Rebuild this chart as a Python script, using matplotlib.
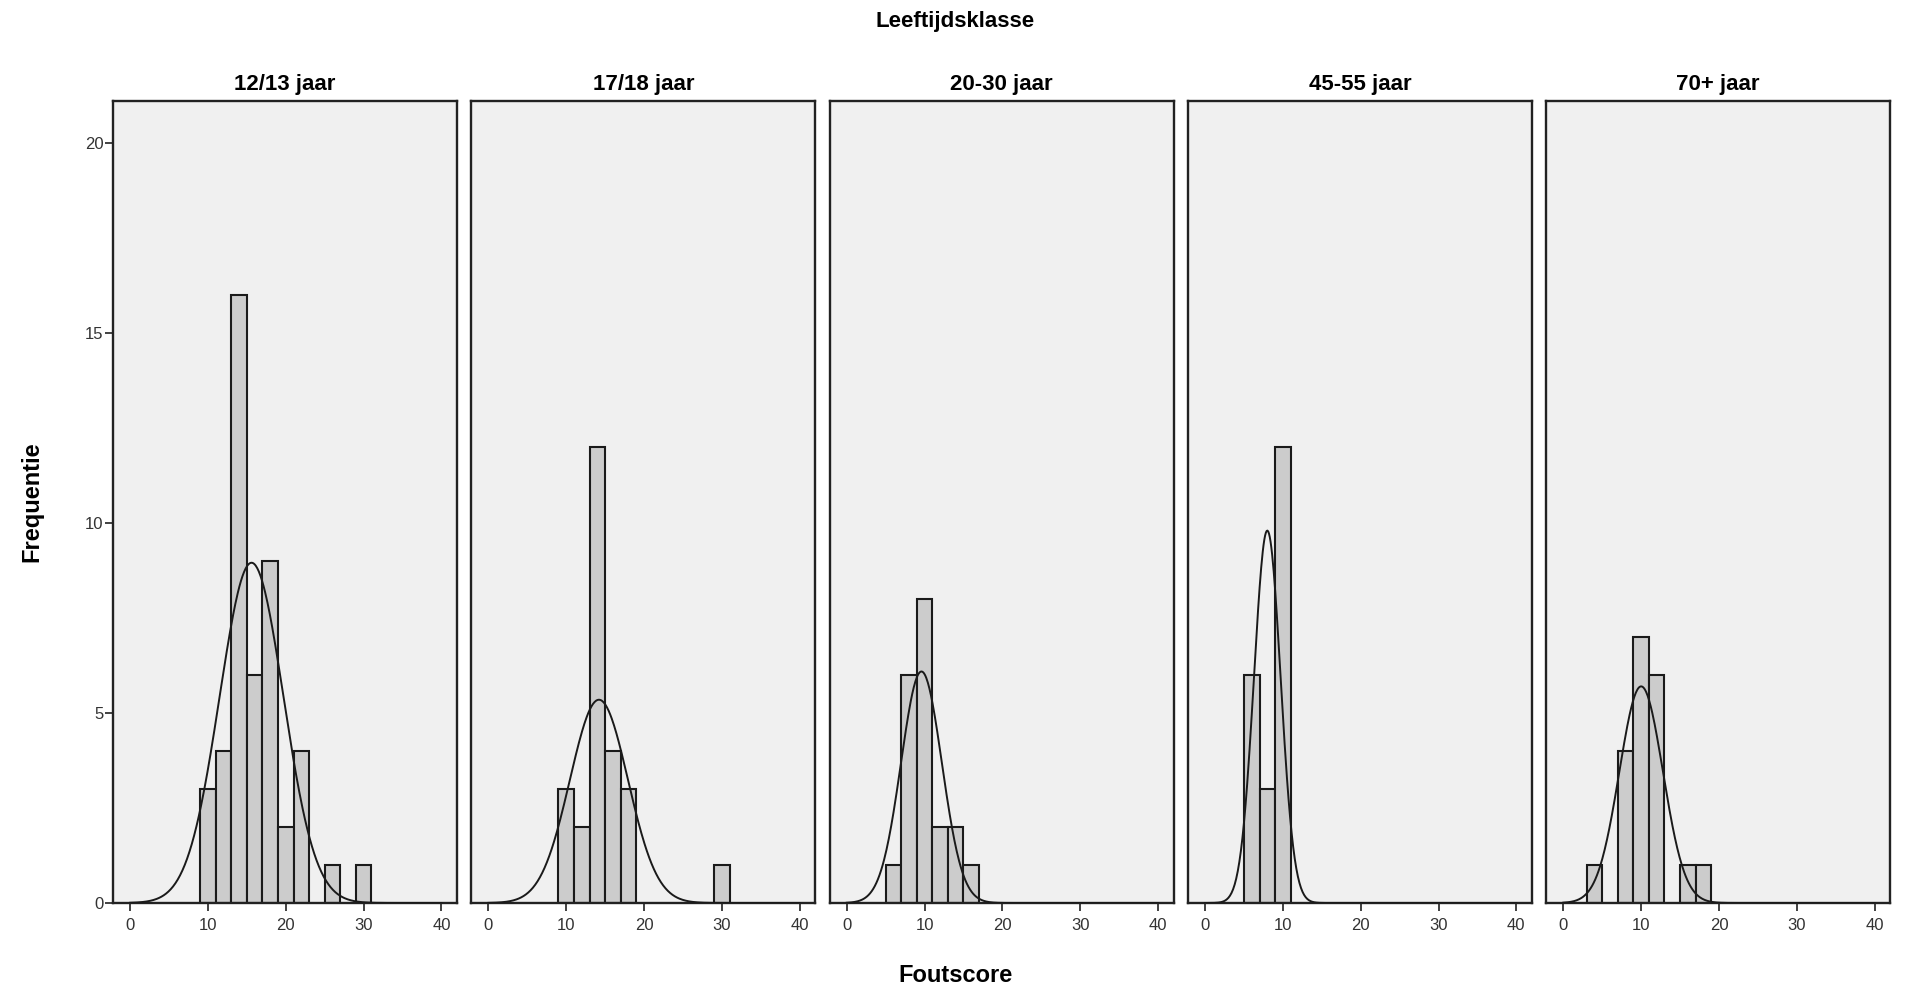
import numpy as np
import matplotlib
matplotlib.use("Agg")
import matplotlib.pyplot as plt

plt.rcParams["font.family"] = ["Liberation Sans", "DejaVu Sans"]

groups = ["12/13 jaar", "17/18 jaar", "20-30 jaar", "45-55 jaar", "70+ jaar"]
bin_width = 2
# bin centres and counts per age group
centres_1 = [10, 12, 14, 16, 18, 20, 22, 26, 30]
counts_1 = [3, 4, 16, 6, 9, 2, 4, 1, 1]
centres_2 = [10, 12, 14, 16, 18, 30]
counts_2 = [3, 2, 12, 4, 3, 1]
centres_3 = [6, 8, 10, 12, 14, 16]
counts_3 = [1, 6, 8, 2, 2, 1]
centres_4 = [6, 8, 10]
counts_4 = [6, 3, 12]
centres_5 = [4, 8, 10, 12, 16, 18]
counts_5 = [1, 4, 7, 6, 1, 1]
# normal curve parameters (mean, sd)
means = [15.6, 14.2, 9.6, 8.0, 10.0]
sds = [4.1, 3.73, 2.62, 1.71, 2.8]

centres = [centres_1, centres_2, centres_3, centres_4, centres_5]
counts = [counts_1, counts_2, counts_3, counts_4, counts_5]

fig = plt.figure(figsize=(19.1, 9.93), dpi=100)
left, bottom, w, h, gap = 113 / 1910, 90 / 993, 344 / 1910, 802 / 993, 14.3 / 1910

xs = np.linspace(0, 40, 400)
for i, g in enumerate(groups):
    ax = fig.add_axes([left + i * (w + gap), bottom, w, h])
    ax.set_facecolor("#F0F0F0")
    ax.bar(centres[i], counts[i], width=bin_width, color="#CCCCCC",
           edgecolor="#1a1a1a", linewidth=1.5, zorder=2)
    n = sum(counts[i])
    ys = n * bin_width / (sds[i] * np.sqrt(2 * np.pi)) * np.exp(-0.5 * ((xs - means[i]) / sds[i]) ** 2)
    ax.plot(xs, ys, color="#1a1a1a", linewidth=1.4, zorder=3)
    ax.set_xlim(-2.2, 42.0)
    ax.set_ylim(0, 21.1)
    ax.set_xticks([0, 10, 20, 30, 40])
    ax.tick_params(axis="x", length=6, width=1.3, labelsize=12, colors="#333333", pad=5)
    if i == 0:
        ax.set_yticks([0, 5, 10, 15, 20])
        ax.tick_params(axis="y", length=6, width=1.3, labelsize=12, colors="#333333", pad=1)
        ax.set_ylabel("Frequentie", fontsize=17, fontweight="bold", labelpad=30)
    else:
        ax.set_yticks([])
    for s in ax.spines.values():
        s.set_linewidth(1.7)
        s.set_color("#222222")
    ax.set_title(g, fontsize=16, fontweight="bold", pad=8)

fig.text(0.5, 1 - 21 / 993, "Leeftijdsklasse", ha="center", va="center",
         fontsize=16, fontweight="bold")
fig.text(0.5, 1 - 976 / 993, "Foutscore", ha="center", va="center",
         fontsize=17, fontweight="bold")

fig.savefig("out.png", dpi=100)
